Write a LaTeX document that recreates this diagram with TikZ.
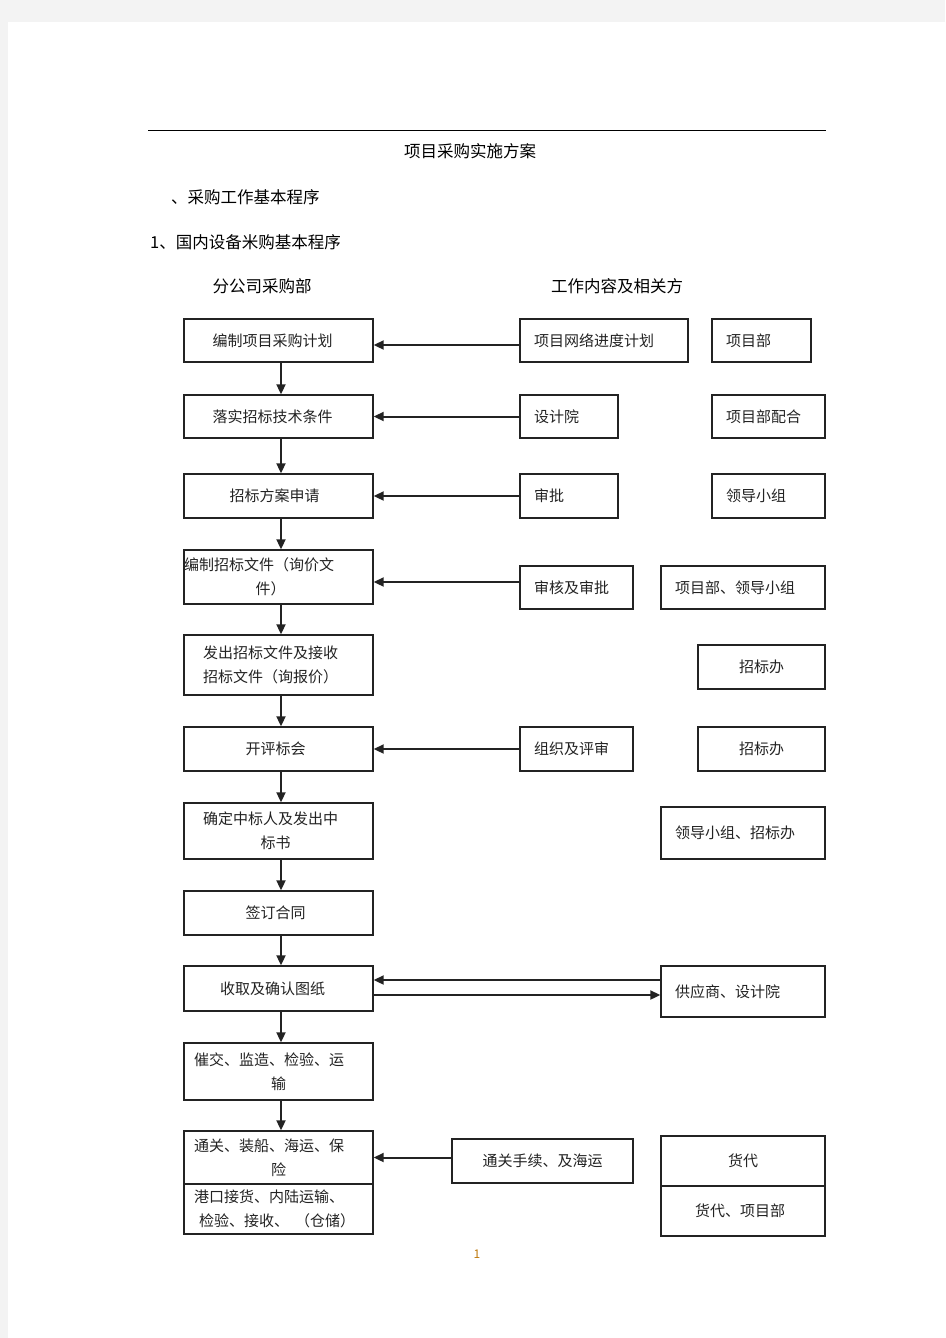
\documentclass[tikz,border=0pt]{standalone}
\usepackage{fontspec}
\setmainfont{Noto Sans CJK SC}
\usetikzlibrary{arrows.meta}
\definecolor{pagegray}{RGB}{243,243,243}
\definecolor{pnum}{RGB}{190,120,10}
\definecolor{ink}{RGB}{35,35,35}
\begin{document}
\begin{tikzpicture}[x=1pt,y=-1pt,
  boxtext/.style={font=\fontsize{15pt}{24pt}\selectfont, text=ink},
  lbox/.style={draw=ink, line width=1.4pt, boxtext, minimum width=189pt, inner xsep=0pt, inner ysep=0pt, align=center},
  lboxw/.style={draw=ink, line width=1.4pt, boxtext, inner ysep=0pt, align=left},
  tbox/.style={draw=ink, line width=1.4pt, boxtext, align=left, inner xsep=14pt, inner ysep=0pt},
  cbox/.style={draw=ink, line width=1.4pt, boxtext, align=center, inner sep=0pt},
  arr/.style={draw=ink, line width=2pt, -{Triangle[length=10pt,width=9pt]}},
  heading/.style={font=\fontsize{16.5pt}{20pt}\selectfont, inner sep=0pt, text=black}
]
% page background
\fill[pagegray] (0,0) rectangle (945,1338);
\fill[white] (8,22) rectangle (945,1338);
\useasboundingbox (0,0) rectangle (945,1338);

% header
\draw[line width=0.9pt] (148,130) -- (826,130);
\node[heading] (title) at (470,151) {项目采购实施方案};
\node[heading, anchor=west] (sec) at (171,197) {、采购工作基本程序};
\node[heading, anchor=west] (sub) at (150,242) {1、国内设备米购基本程序};
\node[heading] (col1) at (262,286) {分公司采购部};
\node[heading] (col2) at (617,286) {工作内容及相关方};

% left column
\node[lbox, minimum height=43pt] (a1) at (278.5,340.5) {编制项目采购计划\hspace*{12pt}};
\node[lbox, minimum height=43pt] (a2) at (278.5,416.5) {落实招标技术条件\hspace*{12pt}};
\node[lbox, minimum height=44pt] (a3) at (278.5,496) {招标方案申请\hspace*{8pt}};
\node[lboxw, inner xsep=0pt, text width=189pt, minimum height=54pt] (a4) at (278.5,577)
  {编制招标文件（询价文\\\makebox[\linewidth][c]{件）\hspace*{16pt}}};
\node[lboxw, inner xsep=19pt, text width=151pt, minimum height=60pt] (a5) at (278.5,665)
  {发出招标文件及接收\\招标文件（询报价）};
\node[lbox, minimum height=44pt] (a6) at (278.5,749) {开评标会\hspace*{6pt}};
\node[lboxw, inner xsep=19pt, text width=151pt, minimum height=56pt] (a7) at (278.5,831)
  {确定中标人及发出中\\\makebox[\linewidth][c]{标书\hspace*{6pt}}};
\node[lbox, minimum height=44pt] (a8) at (278.5,913) {签订合同\hspace*{6pt}};
\node[lbox, minimum height=45pt] (a9) at (278.5,988.5) {收取及确认图纸\hspace*{12pt}};
\node[lboxw, inner xsep=10pt, text width=169pt, minimum height=57pt] (a10) at (278.5,1071.5)
  {催交、监造、检验、运\\\makebox[\linewidth][c]{输}};
\node[lboxw, inner xsep=10pt, text width=169pt, minimum height=53pt] (a11) at (278.5,1157.5)
  {通关、装船、海运、保\\\makebox[\linewidth][c]{险}};
\node[lboxw, inner xsep=10pt, text width=169pt, minimum height=50pt] (a12) at (278.5,1209)
  {港口接货、内陆运输、\\\hspace*{5pt}检验、接收、\hspace*{6pt}（仓储）};

% middle column
\node[tbox, text width=140pt, minimum height=43pt] (m1) at (604,340.5) {项目网络进度计划};
\node[tbox, text width=70pt, minimum height=43pt] (m2) at (569,416.5) {设计院};
\node[tbox, text width=70pt, minimum height=44pt] (m3) at (569,496) {审批};
\node[tbox, text width=85pt, minimum height=43pt] (m4) at (576.5,587.5) {审核及审批};
\node[tbox, text width=85pt, minimum height=44pt] (m6) at (576.5,749) {组织及评审};
\node[cbox, minimum width=181pt, minimum height=44pt] (m11) at (542.5,1161) {\raisebox{-5pt}{通关手续、及海运}};

% right column
\node[tbox, text width=71pt, minimum height=43pt] (r1) at (761.5,340.5) {项目部};
\node[tbox, text width=85pt, minimum height=43pt] (r2) at (768.5,416.5) {项目部配合};
\node[tbox, text width=85pt, minimum height=44pt] (r3) at (768.5,496) {领导小组};
\node[tbox, text width=136pt, minimum height=43pt] (r4) at (743,587.5) {项目部、领导小组};
\node[cbox, minimum width=127pt, minimum height=44pt] (r5) at (761.5,667) {招标办};
\node[cbox, minimum width=127pt, minimum height=44pt] (r6) at (761.5,749) {招标办};
\node[tbox, text width=136pt, minimum height=52pt] (r7) at (743,833) {领导小组、招标办};
\node[tbox, text width=136pt, minimum height=51pt] (r9) at (743,991.5) {供应商、设计院};
\node[cbox, minimum width=164pt, minimum height=50pt] (r11) at (743,1161) {货代};
\node[cbox, minimum width=164pt, minimum height=50pt] (r12) at (743,1211) {\hspace*{-6pt}货代、项目部};

% vertical flow arrows
\foreach \i/\j in {a1/a2,a2/a3,a3/a4,a4/a5,a5/a6,a6/a7,a7/a8,a8/a9,a9/a10,a10/a11}
  \draw[arr] ([xshift=2.5pt]\i.south) -- ([xshift=2.5pt]\j.north);

% horizontal arrows
\path ([yshift=-4.5pt]m1.west) coordinate (s1);
\draw[arr] (s1) -- (s1 -| a1.east);
\draw[arr] (m2.west) -- (m2.west -| a2.east);
\draw[arr] (m3.west) -- (m3.west -| a3.east);
\path ([yshift=5.5pt]m4.west) coordinate (s4);
\draw[arr] (s4) -- (s4 -| a4.east);
\draw[arr] (m6.west) -- (m6.west -| a6.east);
\path ([yshift=11.5pt]r9.west) coordinate (s9a);
\draw[arr] (s9a) -- (s9a -| a9.east);
\path ([yshift=-6.5pt]a9.east) coordinate (s9b);
\draw[arr] (s9b) -- (s9b -| r9.west);
\draw[arr] (a11.east -| m11.west) -- (a11.east);

% page number
\node[font=\fontsize{12pt}{14pt}\selectfont, text=pnum, inner sep=0pt] (pg) at (477,1254) {1};
\end{tikzpicture}
\end{document}
